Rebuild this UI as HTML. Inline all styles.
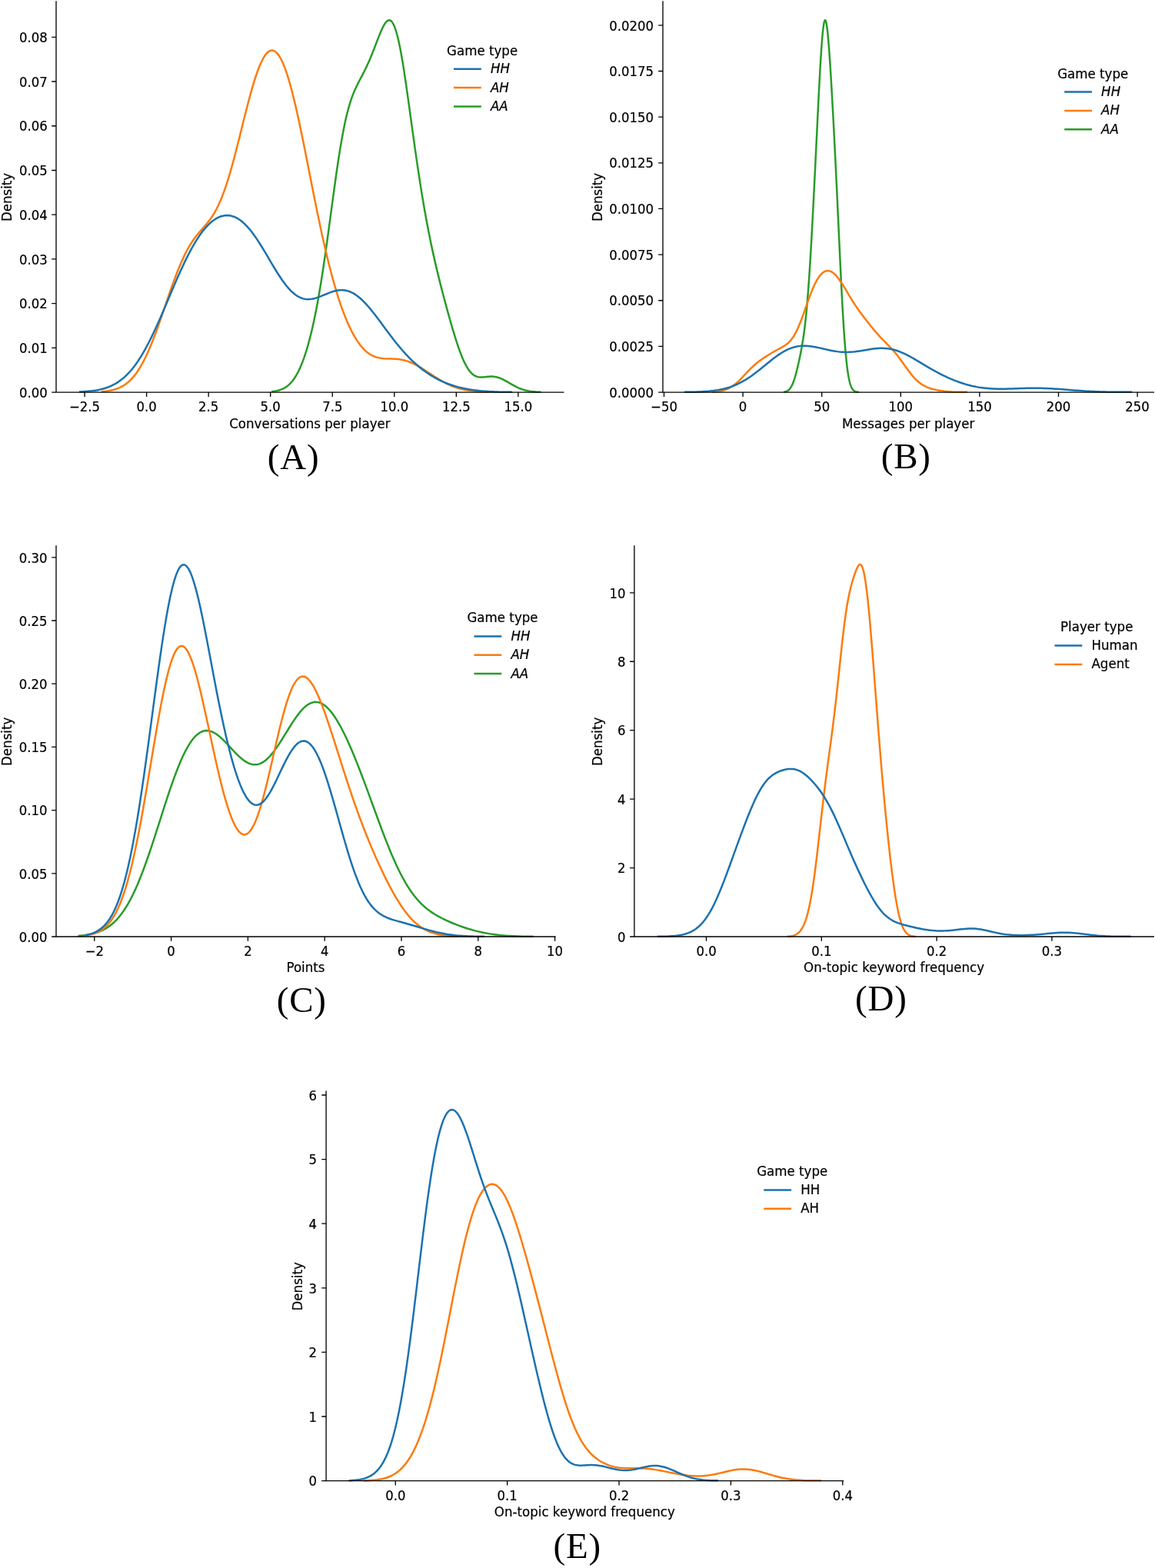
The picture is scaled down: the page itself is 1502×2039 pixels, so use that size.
<!DOCTYPE html>
<html lang="en"><head><meta charset="utf-8"><title>Density plots</title>
<style>
html,body{margin:0;padding:0;background:#fff;}
body{width:1502px;height:2039px;overflow:hidden;}
svg{display:block;}
text{font-family:"DejaVu Sans","Liberation Sans",sans-serif;font-size:16.67px;fill:#000;stroke:#000;stroke-width:0.2px;}
.xl,.al{text-anchor:middle;}
.yl{text-anchor:end;}
.li{font-style:italic;}
.tag{font-family:"Liberation Serif","DejaVu Serif",serif;font-size:47px;letter-spacing:0.8px;text-anchor:middle;stroke:none;}
.c{fill:none;stroke-width:2.5;stroke-linejoin:round;stroke-linecap:butt;}
.lg{fill:none;stroke-width:2.5;stroke-linecap:butt;}
.s{fill:none;stroke:#000;stroke-width:1.33;stroke-linecap:square;stroke-linejoin:miter;}
.t{fill:none;stroke:#000;stroke-width:1.33;}
</style></head><body>
<svg width="1502" height="2039" viewBox="0 0 1502 2039">
<rect width="1502" height="2039" fill="#fff"/>
<g class="panel" id="panel-A">
<path class="c" d="M353 509.24 L354.76 509.04 L356.52 508.8 L358.28 508.5 L360.04 508.15 L361.8 507.72 L363.56 507.21 L365.33 506.61 L367.09 505.9 L368.85 505.06 L370.61 504.08 L372.37 502.95 L374.13 501.63 L375.89 500.13 L377.65 498.41 L379.41 496.46 L381.17 494.25 L382.93 491.78 L384.69 489.03 L386.46 485.97 L388.22 482.6 L389.98 478.89 L391.74 474.83 L393.5 470.42 L395.26 465.62 L397.02 460.44 L398.78 454.86 L400.54 448.86 L402.3 442.43 L404.06 435.55 L405.82 428.2 L407.58 420.38 L409.35 412.06 L411.11 403.24 L412.87 393.91 L414.63 384.07 L416.39 373.71 L418.15 362.86 L419.91 351.53 L421.67 339.75 L423.43 327.58 L425.19 315.07 L426.95 302.28 L428.71 289.31 L430.48 276.24 L432.24 263.17 L434 250.22 L435.76 237.47 L437.52 225.05 L439.28 213.05 L441.04 201.57 L442.8 190.67 L444.56 180.44 L446.32 170.91 L448.08 162.11 L449.84 154.04 L451.61 146.71 L453.37 140.08 L455.13 134.1 L456.89 128.72 L458.65 123.86 L460.41 119.46 L462.17 115.42 L463.93 111.68 L465.69 108.14 L467.45 104.74 L469.21 101.4 L470.97 98.07 L472.73 94.68 L474.5 91.2 L476.26 87.6 L478.02 83.84 L479.78 79.91 L481.54 75.82 L483.3 71.56 L485.06 67.15 L486.82 62.63 L488.58 58.03 L490.34 53.42 L492.1 48.86 L493.86 44.44 L495.63 40.25 L497.39 36.4 L499.15 32.99 L500.91 30.15 L502.67 28 L504.43 26.64 L506.19 26.2 L507.95 26.75 L509.71 28.38 L511.47 31.15 L513.23 35.09 L514.99 40.22 L516.75 46.5 L518.52 53.9 L520.28 62.36 L522.04 71.78 L523.8 82.07 L525.56 93.09 L527.32 104.72 L529.08 116.84 L530.84 129.3 L532.6 141.99 L534.36 154.78 L536.12 167.58 L537.88 180.28 L539.65 192.81 L541.41 205.11 L543.17 217.12 L544.93 228.8 L546.69 240.14 L548.45 251.11 L550.21 261.71 L551.97 271.94 L553.73 281.81 L555.49 291.32 L557.25 300.49 L559.01 309.34 L560.77 317.88 L562.54 326.13 L564.3 334.12 L566.06 341.86 L567.82 349.39 L569.58 356.71 L571.34 363.86 L573.1 370.86 L574.86 377.72 L576.62 384.46 L578.38 391.11 L580.14 397.65 L581.9 404.1 L583.67 410.46 L585.43 416.72 L587.19 422.86 L588.95 428.87 L590.71 434.73 L592.47 440.42 L594.23 445.89 L595.99 451.13 L597.75 456.11 L599.51 460.79 L601.27 465.16 L603.03 469.19 L604.79 472.87 L606.56 476.18 L608.32 479.12 L610.08 481.68 L611.84 483.87 L613.6 485.71 L615.36 487.21 L617.12 488.39 L618.88 489.28 L620.64 489.91 L622.4 490.31 L624.16 490.52 L625.92 490.58 L627.69 490.51 L629.45 490.37 L631.21 490.18 L632.97 489.98 L634.73 489.79 L636.49 489.65 L638.25 489.57 L640.01 489.58 L641.77 489.69 L643.53 489.9 L645.29 490.23 L647.05 490.67 L648.82 491.22 L650.58 491.88 L652.34 492.64 L654.1 493.47 L655.86 494.38 L657.62 495.35 L659.38 496.35 L661.14 497.38 L662.9 498.41 L664.66 499.44 L666.42 500.44 L668.18 501.42 L669.94 502.35 L671.71 503.24 L673.47 504.06 L675.23 504.83 L676.99 505.53 L678.75 506.17 L680.51 506.74 L682.27 507.25 L684.03 507.7 L685.79 508.1 L687.55 508.44 L689.31 508.73 L691.07 508.98 L692.84 509.19 L694.6 509.37 L696.36 509.51 L698.12 509.63 L699.88 509.73 L701.64 509.8 L703.4 509.8" stroke="#289c28"/>
<path class="c" d="M132 509.32 L134.53 509.1 L137.07 508.83 L139.6 508.5 L142.13 508.09 L144.66 507.6 L147.2 507 L149.73 506.28 L152.26 505.43 L154.79 504.41 L157.33 503.22 L159.86 501.84 L162.39 500.23 L164.92 498.38 L167.46 496.26 L169.99 493.86 L172.52 491.16 L175.06 488.13 L177.59 484.76 L180.12 481.03 L182.65 476.95 L185.19 472.5 L187.72 467.68 L190.25 462.5 L192.78 456.97 L195.32 451.1 L197.85 444.91 L200.38 438.43 L202.91 431.69 L205.45 424.72 L207.98 417.57 L210.51 410.28 L213.05 402.91 L215.58 395.49 L218.11 388.08 L220.64 380.74 L223.18 373.51 L225.71 366.45 L228.24 359.6 L230.77 353.02 L233.31 346.72 L235.84 340.76 L238.37 335.15 L240.9 329.91 L243.44 325.04 L245.97 320.54 L248.5 316.4 L251.04 312.59 L253.57 309.08 L256.1 305.81 L258.63 302.74 L261.17 299.8 L263.7 296.92 L266.23 294.03 L268.76 291.04 L271.3 287.88 L273.83 284.47 L276.36 280.73 L278.89 276.61 L281.43 272.03 L283.96 266.95 L286.49 261.33 L289.03 255.15 L291.56 248.39 L294.09 241.06 L296.62 233.18 L299.16 224.78 L301.69 215.9 L304.22 206.6 L306.75 196.95 L309.29 187.02 L311.82 176.92 L314.35 166.72 L316.88 156.53 L319.42 146.43 L321.95 136.55 L324.48 126.96 L327.02 117.78 L329.55 109.09 L332.08 100.99 L334.61 93.55 L337.15 86.85 L339.68 80.97 L342.21 75.96 L344.74 71.88 L347.28 68.78 L349.81 66.68 L352.34 65.61 L354.87 65.6 L357.41 66.64 L359.94 68.74 L362.47 71.89 L365.01 76.07 L367.54 81.26 L370.07 87.41 L372.6 94.48 L375.14 102.43 L377.67 111.19 L380.2 120.71 L382.73 130.91 L385.27 141.73 L387.8 153.08 L390.33 164.88 L392.86 177.07 L395.4 189.54 L397.93 202.22 L400.46 215.04 L402.99 227.91 L405.53 240.76 L408.06 253.51 L410.59 266.11 L413.13 278.49 L415.66 290.6 L418.19 302.4 L420.72 313.84 L423.26 324.9 L425.79 335.54 L428.32 345.76 L430.85 355.53 L433.39 364.84 L435.92 373.7 L438.45 382.1 L440.98 390.05 L443.52 397.54 L446.05 404.59 L448.58 411.2 L451.12 417.38 L453.65 423.13 L456.18 428.47 L458.71 433.41 L461.25 437.94 L463.78 442.08 L466.31 445.83 L468.84 449.22 L471.38 452.23 L473.91 454.9 L476.44 457.22 L478.97 459.22 L481.51 460.92 L484.04 462.33 L486.57 463.48 L489.11 464.39 L491.64 465.09 L494.17 465.61 L496.7 465.98 L499.24 466.23 L501.77 466.38 L504.3 466.48 L506.83 466.55 L509.37 466.61 L511.9 466.71 L514.43 466.85 L516.96 467.05 L519.5 467.35 L522.03 467.75 L524.56 468.26 L527.1 468.89 L529.63 469.64 L532.16 470.52 L534.69 471.53 L537.23 472.65 L539.76 473.89 L542.29 475.22 L544.82 476.65 L547.36 478.16 L549.89 479.73 L552.42 481.35 L554.95 483.01 L557.49 484.69 L560.02 486.37 L562.55 488.05 L565.09 489.71 L567.62 491.33 L570.15 492.91 L572.68 494.43 L575.22 495.89 L577.75 497.27 L580.28 498.58 L582.81 499.81 L585.35 500.96 L587.88 502.02 L590.41 502.99 L592.94 503.88 L595.48 504.69 L598.01 505.42 L600.54 506.07 L603.08 506.64 L605.61 507.15 L608.14 507.6 L610.67 507.99 L613.21 508.33 L615.74 508.63 L618.27 508.88 L620.8 509.09 L623.34 509.27 L625.87 509.42 L628.4 509.55 L630.93 509.65 L633.47 509.74 L636 509.8" stroke="#fc7b0c"/>
<path class="c" d="M103 509.58 L105.83 509.45 L108.66 509.29 L111.49 509.1 L114.32 508.87 L117.15 508.6 L119.97 508.28 L122.8 507.89 L125.63 507.44 L128.46 506.9 L131.29 506.28 L134.12 505.55 L136.95 504.72 L139.78 503.75 L142.61 502.65 L145.44 501.4 L148.27 499.98 L151.1 498.37 L153.92 496.58 L156.75 494.57 L159.58 492.34 L162.41 489.88 L165.24 487.17 L168.07 484.2 L170.9 480.97 L173.73 477.46 L176.56 473.68 L179.39 469.62 L182.22 465.29 L185.05 460.67 L187.87 455.79 L190.7 450.65 L193.53 445.26 L196.36 439.64 L199.19 433.79 L202.02 427.75 L204.85 421.54 L207.68 415.18 L210.51 408.7 L213.34 402.12 L216.17 395.47 L218.99 388.8 L221.82 382.11 L224.65 375.46 L227.48 368.87 L230.31 362.36 L233.14 355.97 L235.97 349.72 L238.8 343.65 L241.63 337.77 L244.46 332.1 L247.29 326.68 L250.12 321.5 L252.94 316.59 L255.77 311.96 L258.6 307.62 L261.43 303.58 L264.26 299.85 L267.09 296.43 L269.92 293.33 L272.75 290.55 L275.58 288.09 L278.41 285.96 L281.24 284.16 L284.07 282.68 L286.89 281.53 L289.72 280.72 L292.55 280.24 L295.38 280.09 L298.21 280.29 L301.04 280.82 L303.87 281.69 L306.7 282.9 L309.53 284.44 L312.36 286.33 L315.19 288.54 L318.02 291.07 L320.84 293.92 L323.67 297.07 L326.5 300.51 L329.33 304.21 L332.16 308.16 L334.99 312.34 L337.82 316.71 L340.65 321.24 L343.48 325.89 L346.31 330.64 L349.14 335.44 L351.96 340.26 L354.79 345.04 L357.62 349.74 L360.45 354.34 L363.28 358.77 L366.11 363.01 L368.94 367.01 L371.77 370.75 L374.6 374.19 L377.43 377.3 L380.26 380.07 L383.09 382.48 L385.91 384.51 L388.74 386.17 L391.57 387.46 L394.4 388.38 L397.23 388.95 L400.06 389.19 L402.89 389.12 L405.72 388.77 L408.55 388.18 L411.38 387.38 L414.21 386.42 L417.04 385.34 L419.86 384.18 L422.69 382.99 L425.52 381.81 L428.35 380.69 L431.18 379.66 L434.01 378.77 L436.84 378.05 L439.67 377.53 L442.5 377.25 L445.33 377.23 L448.16 377.48 L450.98 378.02 L453.81 378.85 L456.64 379.99 L459.47 381.43 L462.3 383.17 L465.13 385.19 L467.96 387.49 L470.79 390.04 L473.62 392.84 L476.45 395.84 L479.28 399.04 L482.11 402.41 L484.93 405.92 L487.76 409.54 L490.59 413.26 L493.42 417.03 L496.25 420.85 L499.08 424.69 L501.91 428.52 L504.74 432.32 L507.57 436.08 L510.4 439.78 L513.23 443.42 L516.06 446.96 L518.88 450.41 L521.71 453.76 L524.54 457 L527.37 460.13 L530.2 463.14 L533.03 466.03 L535.86 468.8 L538.69 471.45 L541.52 473.99 L544.35 476.41 L547.18 478.71 L550.01 480.9 L552.83 482.99 L555.66 484.96 L558.49 486.84 L561.32 488.61 L564.15 490.29 L566.98 491.87 L569.81 493.36 L572.64 494.76 L575.47 496.08 L578.3 497.32 L581.13 498.47 L583.95 499.55 L586.78 500.56 L589.61 501.49 L592.44 502.35 L595.27 503.15 L598.1 503.88 L600.93 504.56 L603.76 505.18 L606.59 505.74 L609.42 506.25 L612.25 506.71 L615.08 507.13 L617.9 507.5 L620.73 507.84 L623.56 508.14 L626.39 508.4 L629.22 508.64 L632.05 508.85 L634.88 509.03 L637.71 509.19 L640.54 509.32 L643.37 509.44 L646.2 509.55 L649.03 509.64 L651.85 509.71 L654.68 509.78 L657.51 509.8 L660.34 509.8 L663.17 509.8 L666 509.8" stroke="#1b72b0"/>
<path class="s" d="M73 2 V510.1 H732.8"/>
<path class="t" d="M110.05 510.1 v5.83M190.6 510.1 v5.83M271.15 510.1 v5.83M351.7 510.1 v5.83M432.25 510.1 v5.83M512.8 510.1 v5.83M593.35 510.1 v5.83M673.9 510.1 v5.83M73 510.1 h-5.83M73 452.38 h-5.83M73 394.65 h-5.83M73 336.93 h-5.83M73 279.2 h-5.83M73 221.48 h-5.83M73 163.75 h-5.83M73 106.02 h-5.83M73 48.3 h-5.83"/>
<text class="xl" transform="translate(110.05 535.1) scale(0.99 1.04)">−2.5</text>
<text class="xl" transform="translate(190.6 535.1) scale(0.99 1.04)">0.0</text>
<text class="xl" transform="translate(271.15 535.1) scale(0.99 1.04)">2.5</text>
<text class="xl" transform="translate(351.7 535.1) scale(0.99 1.04)">5.0</text>
<text class="xl" transform="translate(432.25 535.1) scale(0.99 1.04)">7.5</text>
<text class="xl" transform="translate(512.8 535.1) scale(0.99 1.04)">10.0</text>
<text class="xl" transform="translate(593.35 535.1) scale(0.99 1.04)">12.5</text>
<text class="xl" transform="translate(673.9 535.1) scale(0.99 1.04)">15.0</text>
<text class="yl" transform="translate(61.84 516.8) scale(0.99 1.04)">0.00</text>
<text class="yl" transform="translate(61.84 459.07) scale(0.99 1.04)">0.01</text>
<text class="yl" transform="translate(61.84 401.35) scale(0.99 1.04)">0.02</text>
<text class="yl" transform="translate(61.84 343.63) scale(0.99 1.04)">0.03</text>
<text class="yl" transform="translate(61.84 285.9) scale(0.99 1.04)">0.04</text>
<text class="yl" transform="translate(61.84 228.18) scale(0.99 1.04)">0.05</text>
<text class="yl" transform="translate(61.84 170.45) scale(0.99 1.04)">0.06</text>
<text class="yl" transform="translate(61.84 112.72) scale(0.99 1.04)">0.07</text>
<text class="yl" transform="translate(61.84 55) scale(0.99 1.04)">0.08</text>
<text class="al" transform="translate(402.9 556.5) scale(1.0 1.02)">Conversations per player</text>
<text class="al" transform="translate(15.27 256.45) rotate(-90) scale(1.0 1.02)">Density</text>
<text class="al" transform="translate(627.1 71.8) scale(1.0 1.02)">Game type</text>
<path class="lg" d="M590 89.8 h35.8" stroke="#1b72b0"/>
<text class="li" transform="translate(637.91 95.3) scale(1.0 1.02)">HH</text>
<path class="lg" d="M590 114.1 h35.8" stroke="#fc7b0c"/>
<text class="li" transform="translate(637.91 119.6) scale(1.0 1.02)">AH</text>
<path class="lg" d="M590 138.4 h35.8" stroke="#289c28"/>
<text class="li" transform="translate(637.91 143.9) scale(1.0 1.02)">AA</text>
<text class="tag" x="381.7" y="609.9">(A)</text>
</g>
<g class="panel" id="panel-B">
<path class="c" d="M1019 509.78 L1019.49 509.71 L1019.98 509.63 L1020.48 509.54 L1020.97 509.43 L1021.46 509.3 L1021.95 509.15 L1022.45 508.98 L1022.94 508.78 L1023.43 508.55 L1023.92 508.29 L1024.42 507.99 L1024.91 507.65 L1025.4 507.26 L1025.89 506.83 L1026.39 506.34 L1026.88 505.8 L1027.37 505.2 L1027.86 504.54 L1028.36 503.81 L1028.85 503.01 L1029.34 502.13 L1029.83 501.18 L1030.33 500.15 L1030.82 499.04 L1031.31 497.85 L1031.8 496.57 L1032.3 495.22 L1032.79 493.78 L1033.28 492.26 L1033.77 490.67 L1034.27 489 L1034.76 487.26 L1035.25 485.44 L1035.74 483.57 L1036.24 481.63 L1036.73 479.62 L1037.22 477.57 L1037.71 475.46 L1038.21 473.3 L1038.7 471.09 L1039.19 468.83 L1039.68 466.52 L1040.18 464.15 L1040.67 461.73 L1041.16 459.25 L1041.65 456.71 L1042.15 454.08 L1042.64 451.37 L1043.13 448.56 L1043.62 445.64 L1044.12 442.6 L1044.61 439.41 L1045.1 436.07 L1045.59 432.55 L1046.09 428.83 L1046.58 424.91 L1047.07 420.77 L1047.56 416.38 L1048.06 411.74 L1048.55 406.84 L1049.04 401.65 L1049.53 396.18 L1050.03 390.41 L1050.52 384.35 L1051.01 377.99 L1051.5 371.34 L1051.99 364.39 L1052.49 357.15 L1052.98 349.64 L1053.47 341.86 L1053.96 333.83 L1054.46 325.55 L1054.95 317.04 L1055.44 308.32 L1055.93 299.4 L1056.43 290.3 L1056.92 281.03 L1057.41 271.6 L1057.9 262.04 L1058.4 252.35 L1058.89 242.55 L1059.38 232.65 L1059.87 222.67 L1060.37 212.62 L1060.86 202.51 L1061.35 192.37 L1061.84 182.21 L1062.34 172.06 L1062.83 161.93 L1063.32 151.86 L1063.81 141.87 L1064.31 132.01 L1064.8 122.3 L1065.29 112.79 L1065.78 103.52 L1066.28 94.55 L1066.77 85.91 L1067.26 77.67 L1067.75 69.87 L1068.25 62.57 L1068.74 55.81 L1069.23 49.66 L1069.72 44.14 L1070.22 39.31 L1070.71 35.19 L1071.2 31.83 L1071.69 29.24 L1072.19 27.44 L1072.68 26.44 L1073.17 26.24 L1073.66 26.83 L1074.16 28.2 L1074.65 30.32 L1075.14 33.16 L1075.63 36.69 L1076.13 40.88 L1076.62 45.67 L1077.11 51.02 L1077.6 56.89 L1078.1 63.23 L1078.59 69.98 L1079.08 77.11 L1079.57 84.57 L1080.07 92.33 L1080.56 100.35 L1081.05 108.6 L1081.54 117.05 L1082.04 125.69 L1082.53 134.49 L1083.02 143.45 L1083.51 152.55 L1084.01 161.8 L1084.5 171.19 L1084.99 180.71 L1085.48 190.37 L1085.97 200.17 L1086.47 210.1 L1086.96 220.16 L1087.45 230.34 L1087.94 240.64 L1088.44 251.05 L1088.93 261.55 L1089.42 272.12 L1089.91 282.74 L1090.41 293.38 L1090.9 304.02 L1091.39 314.63 L1091.88 325.17 L1092.38 335.62 L1092.87 345.93 L1093.36 356.07 L1093.85 366.01 L1094.35 375.71 L1094.84 385.14 L1095.33 394.27 L1095.82 403.07 L1096.32 411.53 L1096.81 419.61 L1097.3 427.31 L1097.79 434.61 L1098.29 441.5 L1098.78 447.97 L1099.27 454.03 L1099.76 459.67 L1100.26 464.91 L1100.75 469.74 L1101.24 474.19 L1101.73 478.26 L1102.23 481.97 L1102.72 485.34 L1103.21 488.39 L1103.7 491.13 L1104.2 493.58 L1104.69 495.77 L1105.18 497.72 L1105.67 499.44 L1106.17 500.95 L1106.66 502.28 L1107.15 503.44 L1107.64 504.45 L1108.14 505.33 L1108.63 506.08 L1109.12 506.73 L1109.61 507.28 L1110.11 507.75 L1110.6 508.15 L1111.09 508.49 L1111.58 508.78 L1112.08 509.01 L1112.57 509.21 L1113.06 509.38 L1113.55 509.51 L1114.05 509.63 L1114.54 509.72 L1115.03 509.79 L1115.52 509.8 L1116.02 509.8 L1116.51 509.8 L1117 509.8" stroke="#289c28"/>
<path class="c" d="M926 509.79 L927.67 509.69 L929.34 509.58 L931.01 509.43 L932.67 509.26 L934.34 509.04 L936.01 508.77 L937.68 508.46 L939.35 508.08 L941.02 507.64 L942.68 507.12 L944.35 506.52 L946.02 505.83 L947.69 505.04 L949.36 504.15 L951.03 503.17 L952.69 502.07 L954.36 500.87 L956.03 499.57 L957.7 498.17 L959.37 496.67 L961.04 495.1 L962.7 493.45 L964.37 491.74 L966.04 489.99 L967.71 488.21 L969.38 486.42 L971.05 484.64 L972.71 482.87 L974.38 481.13 L976.05 479.44 L977.72 477.81 L979.39 476.24 L981.06 474.73 L982.72 473.28 L984.39 471.91 L986.06 470.59 L987.73 469.33 L989.4 468.12 L991.07 466.95 L992.73 465.82 L994.4 464.71 L996.07 463.63 L997.74 462.56 L999.41 461.51 L1001.08 460.48 L1002.74 459.47 L1004.41 458.47 L1006.08 457.5 L1007.75 456.56 L1009.42 455.63 L1011.09 454.73 L1012.75 453.84 L1014.42 452.95 L1016.09 452.04 L1017.76 451.11 L1019.43 450.11 L1021.1 449.03 L1022.76 447.82 L1024.43 446.45 L1026.1 444.9 L1027.77 443.11 L1029.44 441.06 L1031.11 438.73 L1032.77 436.1 L1034.44 433.15 L1036.11 429.88 L1037.78 426.3 L1039.45 422.43 L1041.12 418.3 L1042.78 413.94 L1044.45 409.41 L1046.12 404.75 L1047.79 400.03 L1049.46 395.29 L1051.13 390.61 L1052.79 386.03 L1054.46 381.61 L1056.13 377.41 L1057.8 373.46 L1059.47 369.8 L1061.14 366.46 L1062.8 363.45 L1064.47 360.8 L1066.14 358.5 L1067.81 356.56 L1069.48 354.98 L1071.15 353.75 L1072.81 352.87 L1074.48 352.33 L1076.15 352.12 L1077.82 352.23 L1079.49 352.65 L1081.16 353.36 L1082.82 354.37 L1084.49 355.65 L1086.16 357.18 L1087.83 358.96 L1089.5 360.96 L1091.17 363.16 L1092.83 365.53 L1094.5 368.04 L1096.17 370.67 L1097.84 373.39 L1099.51 376.17 L1101.18 378.98 L1102.84 381.79 L1104.51 384.59 L1106.18 387.36 L1107.85 390.07 L1109.52 392.72 L1111.19 395.31 L1112.85 397.82 L1114.52 400.27 L1116.19 402.66 L1117.86 404.99 L1119.53 407.27 L1121.2 409.51 L1122.86 411.72 L1124.53 413.9 L1126.2 416.06 L1127.87 418.2 L1129.54 420.32 L1131.21 422.43 L1132.87 424.51 L1134.54 426.57 L1136.21 428.59 L1137.88 430.58 L1139.55 432.53 L1141.22 434.43 L1142.88 436.29 L1144.55 438.1 L1146.22 439.87 L1147.89 441.6 L1149.56 443.3 L1151.23 444.98 L1152.89 446.65 L1154.56 448.33 L1156.23 450.03 L1157.9 451.76 L1159.57 453.54 L1161.24 455.38 L1162.9 457.29 L1164.57 459.27 L1166.24 461.32 L1167.91 463.45 L1169.58 465.65 L1171.25 467.91 L1172.91 470.22 L1174.58 472.56 L1176.25 474.91 L1177.92 477.26 L1179.59 479.58 L1181.26 481.86 L1182.92 484.08 L1184.59 486.22 L1186.26 488.27 L1187.93 490.2 L1189.6 492.03 L1191.27 493.73 L1192.93 495.3 L1194.6 496.75 L1196.27 498.08 L1197.94 499.28 L1199.61 500.37 L1201.28 501.35 L1202.94 502.24 L1204.61 503.04 L1206.28 503.75 L1207.95 504.39 L1209.62 504.97 L1211.29 505.49 L1212.95 505.97 L1214.62 506.39 L1216.29 506.78 L1217.96 507.14 L1219.63 507.46 L1221.3 507.76 L1222.96 508.03 L1224.63 508.28 L1226.3 508.5 L1227.97 508.71 L1229.64 508.89 L1231.31 509.06 L1232.97 509.21 L1234.64 509.34 L1236.31 509.45 L1237.98 509.56 L1239.65 509.65 L1241.32 509.72 L1242.98 509.79 L1244.65 509.8 L1246.32 509.8 L1247.99 509.8 L1249.66 509.8 L1251.33 509.8 L1252.99 509.8 L1254.66 509.8 L1256.33 509.8 L1258 509.8" stroke="#fc7b0c"/>
<path class="c" d="M890 509.8 L892.92 509.8 L895.85 509.8 L898.77 509.8 L901.7 509.76 L904.62 509.67 L907.55 509.57 L910.47 509.44 L913.4 509.29 L916.32 509.11 L919.25 508.9 L922.17 508.64 L925.1 508.34 L928.02 508 L930.94 507.59 L933.87 507.12 L936.79 506.58 L939.72 505.96 L942.64 505.26 L945.57 504.47 L948.49 503.58 L951.42 502.58 L954.34 501.48 L957.27 500.26 L960.19 498.92 L963.12 497.47 L966.04 495.89 L968.96 494.19 L971.89 492.37 L974.81 490.45 L977.74 488.41 L980.66 486.28 L983.59 484.07 L986.51 481.78 L989.44 479.45 L992.36 477.07 L995.29 474.68 L998.21 472.29 L1001.14 469.92 L1004.06 467.6 L1006.98 465.35 L1009.91 463.19 L1012.83 461.14 L1015.76 459.22 L1018.68 457.45 L1021.61 455.85 L1024.53 454.42 L1027.46 453.18 L1030.38 452.12 L1033.31 451.26 L1036.23 450.6 L1039.16 450.12 L1042.08 449.83 L1045.01 449.71 L1047.93 449.74 L1050.85 449.93 L1053.78 450.24 L1056.7 450.66 L1059.63 451.17 L1062.55 451.75 L1065.48 452.39 L1068.4 453.05 L1071.33 453.73 L1074.25 454.4 L1077.18 455.05 L1080.1 455.66 L1083.03 456.21 L1085.95 456.7 L1088.87 457.12 L1091.8 457.45 L1094.72 457.7 L1097.65 457.84 L1100.57 457.9 L1103.5 457.86 L1106.42 457.72 L1109.35 457.5 L1112.27 457.21 L1115.2 456.84 L1118.12 456.42 L1121.05 455.95 L1123.97 455.46 L1126.89 454.97 L1129.82 454.48 L1132.74 454.02 L1135.67 453.61 L1138.59 453.27 L1141.52 453.01 L1144.44 452.85 L1147.37 452.81 L1150.29 452.9 L1153.22 453.13 L1156.14 453.5 L1159.07 454.03 L1161.99 454.7 L1164.91 455.52 L1167.84 456.49 L1170.76 457.6 L1173.69 458.83 L1176.61 460.17 L1179.54 461.62 L1182.46 463.16 L1185.39 464.76 L1188.31 466.43 L1191.24 468.14 L1194.16 469.88 L1197.09 471.63 L1200.01 473.39 L1202.93 475.14 L1205.86 476.87 L1208.78 478.59 L1211.71 480.27 L1214.63 481.91 L1217.56 483.51 L1220.48 485.07 L1223.41 486.58 L1226.33 488.04 L1229.26 489.45 L1232.18 490.81 L1235.11 492.12 L1238.03 493.37 L1240.95 494.56 L1243.88 495.69 L1246.8 496.77 L1249.73 497.79 L1252.65 498.74 L1255.58 499.63 L1258.5 500.46 L1261.43 501.23 L1264.35 501.93 L1267.28 502.56 L1270.2 503.14 L1273.13 503.65 L1276.05 504.09 L1278.97 504.48 L1281.9 504.81 L1284.82 505.08 L1287.75 505.3 L1290.67 505.47 L1293.6 505.6 L1296.52 505.68 L1299.45 505.72 L1302.37 505.73 L1305.3 505.71 L1308.22 505.67 L1311.15 505.6 L1314.07 505.52 L1316.99 505.42 L1319.92 505.32 L1322.84 505.22 L1325.77 505.12 L1328.69 505.02 L1331.62 504.93 L1334.54 504.85 L1337.47 504.79 L1340.39 504.74 L1343.32 504.71 L1346.24 504.71 L1349.17 504.72 L1352.09 504.76 L1355.02 504.82 L1357.94 504.9 L1360.86 505.01 L1363.79 505.14 L1366.71 505.29 L1369.64 505.45 L1372.56 505.64 L1375.49 505.83 L1378.41 506.04 L1381.34 506.26 L1384.26 506.49 L1387.19 506.72 L1390.11 506.95 L1393.04 507.18 L1395.96 507.41 L1398.88 507.64 L1401.81 507.86 L1404.73 508.07 L1407.66 508.27 L1410.58 508.46 L1413.51 508.63 L1416.43 508.8 L1419.36 508.95 L1422.28 509.1 L1425.21 509.22 L1428.13 509.34 L1431.06 509.45 L1433.98 509.54 L1436.9 509.62 L1439.83 509.69 L1442.75 509.76 L1445.68 509.8 L1448.6 509.8 L1451.53 509.8 L1454.45 509.8 L1457.38 509.8 L1460.3 509.8 L1463.23 509.8 L1466.15 509.8 L1469.08 509.8 L1472 509.8" stroke="#1b72b0"/>
<path class="s" d="M862 2 V510.1 H1500.3"/>
<path class="t" d="M863.5 510.1 v5.83M966.1 510.1 v5.83M1068.7 510.1 v5.83M1171.3 510.1 v5.83M1273.9 510.1 v5.83M1376.5 510.1 v5.83M1479.1 510.1 v5.83M862 510.1 h-5.83M862 450.44 h-5.83M862 390.78 h-5.83M862 331.11 h-5.83M862 271.45 h-5.83M862 211.79 h-5.83M862 152.13 h-5.83M862 92.46 h-5.83M862 32.8 h-5.83"/>
<text class="xl" transform="translate(863.5 535.1) scale(0.99 1.04)">−50</text>
<text class="xl" transform="translate(966.1 535.1) scale(0.99 1.04)">0</text>
<text class="xl" transform="translate(1068.7 535.1) scale(0.99 1.04)">50</text>
<text class="xl" transform="translate(1171.3 535.1) scale(0.99 1.04)">100</text>
<text class="xl" transform="translate(1273.9 535.1) scale(0.99 1.04)">150</text>
<text class="xl" transform="translate(1376.5 535.1) scale(0.99 1.04)">200</text>
<text class="xl" transform="translate(1479.1 535.1) scale(0.99 1.04)">250</text>
<text class="yl" transform="translate(850.04 516.8) scale(0.99 1.04)">0.0000</text>
<text class="yl" transform="translate(850.04 457.14) scale(0.99 1.04)">0.0025</text>
<text class="yl" transform="translate(850.04 397.48) scale(0.99 1.04)">0.0050</text>
<text class="yl" transform="translate(850.04 337.81) scale(0.99 1.04)">0.0075</text>
<text class="yl" transform="translate(850.04 278.15) scale(0.99 1.04)">0.0100</text>
<text class="yl" transform="translate(850.04 218.49) scale(0.99 1.04)">0.0125</text>
<text class="yl" transform="translate(850.04 158.83) scale(0.99 1.04)">0.0150</text>
<text class="yl" transform="translate(850.04 99.16) scale(0.99 1.04)">0.0175</text>
<text class="yl" transform="translate(850.04 39.5) scale(0.99 1.04)">0.0200</text>
<text class="al" transform="translate(1181.15 556.5) scale(1.0 1.02)">Messages per player</text>
<text class="al" transform="translate(783.07 256.45) rotate(-90) scale(1.0 1.02)">Density</text>
<text class="al" transform="translate(1421.2 101.7) scale(1.0 1.02)">Game type</text>
<path class="lg" d="M1384.2 119.6 h35.8" stroke="#1b72b0"/>
<text class="li" transform="translate(1432.11 125.1) scale(1.0 1.02)">HH</text>
<path class="lg" d="M1384.2 143.9 h35.8" stroke="#fc7b0c"/>
<text class="li" transform="translate(1432.11 149.4) scale(1.0 1.02)">AH</text>
<path class="lg" d="M1384.2 168.2 h35.8" stroke="#289c28"/>
<text class="li" transform="translate(1432.11 173.7) scale(1.0 1.02)">AA</text>
<text class="tag" x="1178.3" y="608.9">(B)</text>
</g>
<g class="panel" id="panel-C">
<path class="c" d="M101.5 1217.02 L104.47 1216.77 L107.45 1216.47 L110.42 1216.11 L113.4 1215.67 L116.37 1215.14 L119.35 1214.52 L122.32 1213.77 L125.3 1212.89 L128.27 1211.86 L131.25 1210.66 L134.22 1209.26 L137.2 1207.65 L140.17 1205.79 L143.15 1203.68 L146.12 1201.27 L149.1 1198.56 L152.07 1195.51 L155.05 1192.1 L158.02 1188.31 L161 1184.13 L163.97 1179.54 L166.95 1174.53 L169.92 1169.08 L172.9 1163.2 L175.87 1156.89 L178.85 1150.15 L181.82 1143 L184.8 1135.45 L187.77 1127.54 L190.75 1119.28 L193.72 1110.73 L196.7 1101.91 L199.67 1092.88 L202.65 1083.68 L205.62 1074.38 L208.6 1065.04 L211.57 1055.7 L214.55 1046.44 L217.52 1037.32 L220.49 1028.4 L223.47 1019.74 L226.44 1011.4 L229.42 1003.44 L232.39 995.9 L235.37 988.83 L238.34 982.28 L241.32 976.28 L244.29 970.87 L247.27 966.06 L250.24 961.87 L253.22 958.32 L256.19 955.42 L259.17 953.15 L262.14 951.52 L265.12 950.5 L268.09 950.07 L271.07 950.22 L274.04 950.9 L277.02 952.08 L279.99 953.72 L282.97 955.76 L285.94 958.15 L288.92 960.83 L291.89 963.75 L294.87 966.84 L297.84 970.04 L300.82 973.28 L303.79 976.49 L306.77 979.61 L309.74 982.57 L312.72 985.32 L315.69 987.79 L318.67 989.93 L321.64 991.69 L324.62 993.03 L327.59 993.92 L330.57 994.32 L333.54 994.22 L336.52 993.6 L339.49 992.46 L342.46 990.8 L345.44 988.64 L348.41 986 L351.39 982.9 L354.36 979.4 L357.34 975.52 L360.31 971.33 L363.29 966.88 L366.26 962.23 L369.24 957.45 L372.21 952.6 L375.19 947.76 L378.16 943 L381.14 938.38 L384.11 933.98 L387.09 929.86 L390.06 926.07 L393.04 922.68 L396.01 919.73 L398.99 917.27 L401.96 915.33 L404.94 913.93 L407.91 913.11 L410.89 912.87 L413.86 913.21 L416.84 914.15 L419.81 915.66 L422.79 917.73 L425.76 920.35 L428.74 923.5 L431.71 927.15 L434.69 931.28 L437.66 935.85 L440.64 940.84 L443.61 946.23 L446.59 951.97 L449.56 958.06 L452.54 964.45 L455.51 971.13 L458.48 978.07 L461.46 985.25 L464.43 992.64 L467.41 1000.22 L470.38 1007.96 L473.36 1015.85 L476.33 1023.85 L479.31 1031.93 L482.28 1040.07 L485.26 1048.24 L488.23 1056.4 L491.21 1064.51 L494.18 1072.55 L497.16 1080.49 L500.13 1088.27 L503.11 1095.88 L506.08 1103.28 L509.06 1110.44 L512.03 1117.34 L515.01 1123.95 L517.98 1130.24 L520.96 1136.22 L523.93 1141.86 L526.91 1147.16 L529.88 1152.12 L532.86 1156.73 L535.83 1161.02 L538.81 1164.98 L541.78 1168.63 L544.76 1171.99 L547.73 1175.08 L550.71 1177.91 L553.68 1180.51 L556.66 1182.9 L559.63 1185.11 L562.61 1187.14 L565.58 1189.03 L568.56 1190.79 L571.53 1192.44 L574.51 1194 L577.48 1195.47 L580.45 1196.87 L583.43 1198.21 L586.4 1199.49 L589.38 1200.72 L592.35 1201.91 L595.33 1203.05 L598.3 1204.16 L601.28 1205.22 L604.25 1206.24 L607.23 1207.21 L610.2 1208.14 L613.18 1209.03 L616.15 1209.87 L619.13 1210.66 L622.1 1211.4 L625.08 1212.09 L628.05 1212.74 L631.03 1213.33 L634 1213.88 L636.98 1214.38 L639.95 1214.83 L642.93 1215.24 L645.9 1215.61 L648.88 1215.94 L651.85 1216.23 L654.83 1216.49 L657.8 1216.72 L660.78 1216.91 L663.75 1217.09 L666.73 1217.23 L669.7 1217.36 L672.68 1217.47 L675.65 1217.56 L678.63 1217.64 L681.6 1217.7 L684.58 1217.7 L687.55 1217.7 L690.53 1217.7 L693.5 1217.7" stroke="#289c28"/>
<path class="c" d="M115 1215.89 L117.42 1215.38 L119.83 1214.77 L122.25 1214.03 L124.67 1213.15 L127.09 1212.1 L129.5 1210.86 L131.92 1209.4 L134.34 1207.69 L136.75 1205.7 L139.17 1203.39 L141.59 1200.72 L144.01 1197.67 L146.42 1194.19 L148.84 1190.25 L151.26 1185.8 L153.67 1180.81 L156.09 1175.24 L158.51 1169.07 L160.92 1162.25 L163.34 1154.77 L165.76 1146.62 L168.18 1137.77 L170.59 1128.23 L173.01 1118 L175.43 1107.1 L177.84 1095.54 L180.26 1083.38 L182.68 1070.65 L185.1 1057.41 L187.51 1043.73 L189.93 1029.7 L192.35 1015.4 L194.76 1000.94 L197.18 986.42 L199.6 971.96 L202.02 957.67 L204.43 943.69 L206.85 930.14 L209.27 917.14 L211.68 904.82 L214.1 893.29 L216.52 882.66 L218.93 873.05 L221.35 864.53 L223.77 857.19 L226.19 851.1 L228.6 846.3 L231.02 842.83 L233.44 840.7 L235.85 839.92 L238.27 840.48 L240.69 842.34 L243.11 845.46 L245.52 849.77 L247.94 855.22 L250.36 861.7 L252.77 869.14 L255.19 877.43 L257.61 886.47 L260.03 896.15 L262.44 906.35 L264.86 916.98 L267.28 927.92 L269.69 939.07 L272.11 950.32 L274.53 961.57 L276.94 972.74 L279.36 983.75 L281.78 994.5 L284.2 1004.92 L286.61 1014.95 L289.03 1024.53 L291.45 1033.58 L293.86 1042.06 L296.28 1049.92 L298.7 1057.11 L301.12 1063.57 L303.53 1069.27 L305.95 1074.17 L308.37 1078.22 L310.78 1081.4 L313.2 1083.68 L315.62 1085.02 L318.04 1085.4 L320.45 1084.81 L322.87 1083.24 L325.29 1080.69 L327.7 1077.17 L330.12 1072.7 L332.54 1067.31 L334.95 1061.03 L337.37 1053.92 L339.79 1046.05 L342.21 1037.49 L344.62 1028.32 L347.04 1018.65 L349.46 1008.57 L351.87 998.2 L354.29 987.66 L356.71 977.06 L359.13 966.52 L361.54 956.18 L363.96 946.13 L366.38 936.5 L368.79 927.39 L371.21 918.89 L373.63 911.09 L376.05 904.05 L378.46 897.85 L380.88 892.51 L383.3 888.09 L385.71 884.59 L388.13 882.01 L390.55 880.37 L392.96 879.62 L395.38 879.75 L397.8 880.73 L400.22 882.5 L402.63 885.03 L405.05 888.25 L407.47 892.12 L409.88 896.57 L412.3 901.55 L414.72 907.01 L417.14 912.89 L419.55 919.13 L421.97 925.69 L424.39 932.52 L426.8 939.57 L429.22 946.81 L431.64 954.19 L434.06 961.68 L436.47 969.24 L438.89 976.85 L441.31 984.47 L443.72 992.07 L446.14 999.64 L448.56 1007.16 L450.97 1014.59 L453.39 1021.94 L455.81 1029.18 L458.23 1036.3 L460.64 1043.29 L463.06 1050.15 L465.48 1056.88 L467.89 1063.47 L470.31 1069.92 L472.73 1076.23 L475.15 1082.41 L477.56 1088.46 L479.98 1094.38 L482.4 1100.18 L484.81 1105.87 L487.23 1111.45 L489.65 1116.91 L492.07 1122.27 L494.48 1127.51 L496.9 1132.65 L499.32 1137.68 L501.73 1142.59 L504.15 1147.38 L506.57 1152.05 L508.98 1156.58 L511.4 1160.97 L513.82 1165.21 L516.24 1169.29 L518.65 1173.2 L521.07 1176.95 L523.49 1180.51 L525.9 1183.89 L528.32 1187.09 L530.74 1190.09 L533.16 1192.89 L535.57 1195.51 L537.99 1197.93 L540.41 1200.17 L542.82 1202.22 L545.24 1204.1 L547.66 1205.8 L550.08 1207.34 L552.49 1208.73 L554.91 1209.97 L557.33 1211.08 L559.74 1212.06 L562.16 1212.92 L564.58 1213.68 L566.99 1214.34 L569.41 1214.92 L571.83 1215.41 L574.25 1215.84 L576.66 1216.2 L579.08 1216.51 L581.5 1216.77 L583.91 1216.99 L586.33 1217.18 L588.75 1217.33 L591.17 1217.46 L593.58 1217.57 L596 1217.65" stroke="#fc7b0c"/>
<path class="c" d="M112 1215.89 L114.6 1215.33 L117.21 1214.65 L119.81 1213.82 L122.41 1212.82 L125.02 1211.6 L127.62 1210.14 L130.22 1208.4 L132.82 1206.34 L135.43 1203.92 L138.03 1201.07 L140.63 1197.76 L143.24 1193.93 L145.84 1189.52 L148.44 1184.48 L151.05 1178.75 L153.65 1172.28 L156.25 1165.01 L158.85 1156.89 L161.46 1147.88 L164.06 1137.96 L166.66 1127.07 L169.27 1115.22 L171.87 1102.39 L174.47 1088.59 L177.08 1073.85 L179.68 1058.2 L182.28 1041.7 L184.88 1024.42 L187.49 1006.45 L190.09 987.9 L192.69 968.88 L195.3 949.55 L197.9 930.05 L200.5 910.55 L203.11 891.22 L205.71 872.26 L208.31 853.84 L210.91 836.16 L213.52 819.39 L216.12 803.73 L218.72 789.34 L221.33 776.37 L223.93 764.97 L226.53 755.25 L229.14 747.3 L231.74 741.21 L234.34 737 L236.94 734.69 L239.55 734.28 L242.15 735.72 L244.75 738.95 L247.36 743.87 L249.96 750.37 L252.56 758.32 L255.17 767.58 L257.77 777.99 L260.37 789.38 L262.97 801.58 L265.58 814.42 L268.18 827.75 L270.78 841.39 L273.39 855.21 L275.99 869.06 L278.59 882.83 L281.2 896.4 L283.8 909.68 L286.4 922.59 L289.01 935.06 L291.61 947.04 L294.21 958.46 L296.81 969.31 L299.42 979.54 L302.02 989.13 L304.62 998.06 L307.23 1006.3 L309.83 1013.83 L312.43 1020.63 L315.04 1026.68 L317.64 1031.97 L320.24 1036.47 L322.84 1040.18 L325.45 1043.08 L328.05 1045.16 L330.65 1046.42 L333.26 1046.87 L335.86 1046.53 L338.46 1045.41 L341.07 1043.56 L343.67 1041.01 L346.27 1037.82 L348.87 1034.06 L351.48 1029.79 L354.08 1025.09 L356.68 1020.05 L359.29 1014.77 L361.89 1009.32 L364.49 1003.82 L367.1 998.35 L369.7 993.01 L372.3 987.88 L374.9 983.06 L377.51 978.61 L380.11 974.63 L382.71 971.17 L385.32 968.29 L387.92 966.04 L390.52 964.48 L393.13 963.63 L395.73 963.52 L398.33 964.17 L400.93 965.6 L403.54 967.81 L406.14 970.79 L408.74 974.54 L411.35 979.03 L413.95 984.24 L416.55 990.12 L419.16 996.65 L421.76 1003.76 L424.36 1011.4 L426.96 1019.51 L429.57 1028.01 L432.17 1036.84 L434.77 1045.92 L437.38 1055.17 L439.98 1064.51 L442.58 1073.85 L445.19 1083.13 L447.79 1092.26 L450.39 1101.18 L452.99 1109.82 L455.6 1118.13 L458.2 1126.05 L460.8 1133.54 L463.41 1140.58 L466.01 1147.14 L468.61 1153.2 L471.22 1158.75 L473.82 1163.81 L476.42 1168.38 L479.03 1172.48 L481.63 1176.13 L484.23 1179.35 L486.83 1182.19 L489.44 1184.66 L492.04 1186.82 L494.64 1188.68 L497.25 1190.3 L499.85 1191.71 L502.45 1192.93 L505.06 1194.01 L507.66 1194.97 L510.26 1195.84 L512.86 1196.64 L515.47 1197.39 L518.07 1198.12 L520.67 1198.83 L523.28 1199.53 L525.88 1200.24 L528.48 1200.95 L531.09 1201.69 L533.69 1202.43 L536.29 1203.19 L538.89 1203.96 L541.5 1204.75 L544.1 1205.54 L546.7 1206.33 L549.31 1207.11 L551.91 1207.89 L554.51 1208.66 L557.12 1209.4 L559.72 1210.13 L562.32 1210.83 L564.92 1211.49 L567.53 1212.13 L570.13 1212.73 L572.73 1213.29 L575.34 1213.81 L577.94 1214.29 L580.54 1214.74 L583.15 1215.14 L585.75 1215.51 L588.35 1215.84 L590.95 1216.14 L593.56 1216.41 L596.16 1216.64 L598.76 1216.85 L601.37 1217.03 L603.97 1217.18 L606.57 1217.32 L609.18 1217.43 L611.78 1217.53 L614.38 1217.62 L616.98 1217.69 L619.59 1217.7 L622.19 1217.7 L624.79 1217.7 L627.4 1217.7 L630 1217.7" stroke="#1b72b0"/>
<path class="s" d="M73 709.8 V1218 H722"/>
<path class="t" d="M122.8 1218 v5.83M222.6 1218 v5.83M322.4 1218 v5.83M422.2 1218 v5.83M522 1218 v5.83M621.8 1218 v5.83M721.6 1218 v5.83M73 1218 h-5.83M73 1135.8 h-5.83M73 1053.6 h-5.83M73 971.4 h-5.83M73 889.2 h-5.83M73 807 h-5.83M73 724.8 h-5.83"/>
<text class="xl" transform="translate(122.8 1243) scale(0.99 1.04)">−2</text>
<text class="xl" transform="translate(222.6 1243) scale(0.99 1.04)">0</text>
<text class="xl" transform="translate(322.4 1243) scale(0.99 1.04)">2</text>
<text class="xl" transform="translate(422.2 1243) scale(0.99 1.04)">4</text>
<text class="xl" transform="translate(522 1243) scale(0.99 1.04)">6</text>
<text class="xl" transform="translate(621.8 1243) scale(0.99 1.04)">8</text>
<text class="xl" transform="translate(721.6 1243) scale(0.99 1.04)">10</text>
<text class="yl" transform="translate(61.54 1224.7) scale(0.99 1.04)">0.00</text>
<text class="yl" transform="translate(61.54 1142.5) scale(0.99 1.04)">0.05</text>
<text class="yl" transform="translate(61.54 1060.3) scale(0.99 1.04)">0.10</text>
<text class="yl" transform="translate(61.54 978.1) scale(0.99 1.04)">0.15</text>
<text class="yl" transform="translate(61.54 895.9) scale(0.99 1.04)">0.20</text>
<text class="yl" transform="translate(61.54 813.7) scale(0.99 1.04)">0.25</text>
<text class="yl" transform="translate(61.54 731.5) scale(0.99 1.04)">0.30</text>
<text class="al" transform="translate(397.5 1264.4) scale(1.0 1.02)">Points</text>
<text class="al" transform="translate(15.27 964.3) rotate(-90) scale(1.0 1.02)">Density</text>
<text class="al" transform="translate(653.5 809.2) scale(1.0 1.02)">Game type</text>
<path class="lg" d="M616.5 827.4 h35.8" stroke="#1b72b0"/>
<text class="li" transform="translate(664.41 832.9) scale(1.0 1.02)">HH</text>
<path class="lg" d="M616.5 851.7 h35.8" stroke="#fc7b0c"/>
<text class="li" transform="translate(664.41 857.2) scale(1.0 1.02)">AH</text>
<path class="lg" d="M616.5 876 h35.8" stroke="#289c28"/>
<text class="li" transform="translate(664.41 881.5) scale(1.0 1.02)">AA</text>
<text class="tag" x="392.3" y="1316">(C)</text>
</g>
<g class="panel" id="panel-D">
<path class="c" d="M1024 1217.7 L1024.84 1217.7 L1025.67 1217.69 L1026.51 1217.62 L1027.35 1217.53 L1028.18 1217.42 L1029.02 1217.29 L1029.86 1217.13 L1030.69 1216.95 L1031.53 1216.73 L1032.37 1216.47 L1033.2 1216.17 L1034.04 1215.83 L1034.88 1215.42 L1035.71 1214.96 L1036.55 1214.43 L1037.39 1213.82 L1038.22 1213.13 L1039.06 1212.35 L1039.9 1211.47 L1040.73 1210.48 L1041.57 1209.38 L1042.41 1208.14 L1043.24 1206.76 L1044.08 1205.23 L1044.92 1203.53 L1045.75 1201.66 L1046.59 1199.59 L1047.43 1197.33 L1048.26 1194.84 L1049.1 1192.13 L1049.94 1189.17 L1050.77 1185.96 L1051.61 1182.48 L1052.45 1178.72 L1053.28 1174.68 L1054.12 1170.34 L1054.96 1165.7 L1055.79 1160.77 L1056.63 1155.53 L1057.47 1150 L1058.3 1144.18 L1059.14 1138.09 L1059.98 1131.74 L1060.81 1125.16 L1061.65 1118.36 L1062.49 1111.38 L1063.32 1104.25 L1064.16 1096.99 L1065 1089.65 L1065.83 1082.25 L1066.67 1074.83 L1067.51 1067.42 L1068.34 1060.06 L1069.18 1052.76 L1070.02 1045.55 L1070.85 1038.45 L1071.69 1031.48 L1072.53 1024.64 L1073.36 1017.92 L1074.2 1011.34 L1075.04 1004.87 L1075.87 998.51 L1076.71 992.23 L1077.55 986.01 L1078.38 979.82 L1079.22 973.63 L1080.06 967.42 L1080.89 961.16 L1081.73 954.81 L1082.57 948.35 L1083.4 941.76 L1084.24 935.02 L1085.08 928.11 L1085.91 921.03 L1086.75 913.77 L1087.59 906.35 L1088.42 898.77 L1089.26 891.06 L1090.1 883.24 L1090.93 875.35 L1091.77 867.42 L1092.61 859.5 L1093.44 851.64 L1094.28 843.88 L1095.12 836.28 L1095.95 828.88 L1096.79 821.72 L1097.63 814.86 L1098.46 808.31 L1099.3 802.11 L1100.14 796.28 L1100.97 790.81 L1101.81 785.72 L1102.65 781 L1103.48 776.62 L1104.32 772.56 L1105.16 768.79 L1105.99 765.28 L1106.83 762 L1107.67 758.91 L1108.51 755.98 L1109.34 753.19 L1110.18 750.53 L1111.02 747.98 L1111.85 745.55 L1112.69 743.25 L1113.53 741.11 L1114.36 739.17 L1115.2 737.46 L1116.04 736.03 L1116.87 734.95 L1117.71 734.26 L1118.55 734.04 L1119.38 734.34 L1120.22 735.21 L1121.06 736.7 L1121.89 738.85 L1122.73 741.68 L1123.57 745.23 L1124.4 749.49 L1125.24 754.47 L1126.08 760.14 L1126.91 766.5 L1127.75 773.5 L1128.59 781.11 L1129.42 789.28 L1130.26 797.97 L1131.1 807.11 L1131.93 816.67 L1132.77 826.58 L1133.61 836.79 L1134.44 847.24 L1135.28 857.89 L1136.12 868.69 L1136.95 879.6 L1137.79 890.56 L1138.63 901.55 L1139.46 912.53 L1140.3 923.47 L1141.14 934.33 L1141.97 945.1 L1142.81 955.75 L1143.65 966.26 L1144.48 976.61 L1145.32 986.8 L1146.16 996.81 L1146.99 1006.63 L1147.83 1016.27 L1148.67 1025.71 L1149.5 1034.95 L1150.34 1044 L1151.18 1052.86 L1152.01 1061.53 L1152.85 1070 L1153.69 1078.28 L1154.52 1086.38 L1155.36 1094.28 L1156.2 1101.98 L1157.03 1109.49 L1157.87 1116.79 L1158.71 1123.87 L1159.54 1130.73 L1160.38 1137.36 L1161.22 1143.74 L1162.05 1149.86 L1162.89 1155.71 L1163.73 1161.29 L1164.56 1166.58 L1165.4 1171.57 L1166.24 1176.25 L1167.07 1180.64 L1167.91 1184.71 L1168.75 1188.48 L1169.58 1191.95 L1170.42 1195.13 L1171.26 1198.01 L1172.09 1200.62 L1172.93 1202.97 L1173.77 1205.07 L1174.6 1206.93 L1175.44 1208.57 L1176.28 1210.02 L1177.11 1211.28 L1177.95 1212.37 L1178.79 1213.31 L1179.62 1214.11 L1180.46 1214.79 L1181.3 1215.37 L1182.13 1215.86 L1182.97 1216.26 L1183.81 1216.6 L1184.64 1216.88 L1185.48 1217.11 L1186.32 1217.29 L1187.15 1217.44 L1187.99 1217.56 L1188.83 1217.66 L1189.66 1217.7 L1190.5 1217.7" stroke="#fc7b0c"/>
<path class="c" d="M855 1217.7 L858.09 1217.7 L861.19 1217.7 L864.28 1217.7 L867.37 1217.66 L870.46 1217.53 L873.56 1217.34 L876.65 1217.1 L879.74 1216.78 L882.84 1216.36 L885.93 1215.82 L889.02 1215.14 L892.12 1214.27 L895.21 1213.19 L898.3 1211.86 L901.39 1210.22 L904.49 1208.24 L907.58 1205.85 L910.67 1203.02 L913.77 1199.7 L916.86 1195.84 L919.95 1191.42 L923.05 1186.42 L926.14 1180.84 L929.23 1174.7 L932.32 1168.02 L935.42 1160.85 L938.51 1153.27 L941.6 1145.35 L944.7 1137.15 L947.79 1128.77 L950.88 1120.26 L953.97 1111.7 L957.07 1103.13 L960.16 1094.61 L963.25 1086.18 L966.35 1077.87 L969.44 1069.73 L972.53 1061.82 L975.63 1054.19 L978.72 1046.93 L981.81 1040.1 L984.9 1033.79 L988 1028.06 L991.09 1022.95 L994.18 1018.5 L997.28 1014.69 L1000.37 1011.48 L1003.46 1008.83 L1006.56 1006.65 L1009.65 1004.86 L1012.74 1003.4 L1015.83 1002.2 L1018.93 1001.25 L1022.02 1000.53 L1025.11 1000.06 L1028.21 999.89 L1031.3 1000.06 L1034.39 1000.6 L1037.48 1001.56 L1040.58 1002.95 L1043.67 1004.76 L1046.76 1006.96 L1049.86 1009.52 L1052.95 1012.4 L1056.04 1015.57 L1059.14 1019.01 L1062.23 1022.73 L1065.32 1026.73 L1068.41 1031.04 L1071.51 1035.72 L1074.6 1040.78 L1077.69 1046.25 L1080.79 1052.13 L1083.88 1058.4 L1086.97 1065.03 L1090.07 1071.94 L1093.16 1079.05 L1096.25 1086.3 L1099.34 1093.59 L1102.44 1100.87 L1105.53 1108.07 L1108.62 1115.17 L1111.72 1122.13 L1114.81 1128.95 L1117.9 1135.62 L1120.99 1142.11 L1124.09 1148.43 L1127.18 1154.53 L1130.27 1160.38 L1133.37 1165.93 L1136.46 1171.15 L1139.55 1175.98 L1142.65 1180.37 L1145.74 1184.31 L1148.83 1187.78 L1151.92 1190.79 L1155.02 1193.35 L1158.11 1195.51 L1161.2 1197.31 L1164.3 1198.81 L1167.39 1200.07 L1170.48 1201.15 L1173.58 1202.1 L1176.67 1202.96 L1179.76 1203.76 L1182.85 1204.53 L1185.95 1205.27 L1189.04 1205.99 L1192.13 1206.68 L1195.23 1207.34 L1198.32 1207.95 L1201.41 1208.52 L1204.51 1209.02 L1207.6 1209.45 L1210.69 1209.82 L1213.78 1210.1 L1216.88 1210.31 L1219.97 1210.45 L1223.06 1210.5 L1226.16 1210.47 L1229.25 1210.37 L1232.34 1210.2 L1235.43 1209.96 L1238.53 1209.66 L1241.62 1209.32 L1244.71 1208.95 L1247.81 1208.59 L1250.9 1208.24 L1253.99 1207.93 L1257.09 1207.7 L1260.18 1207.55 L1263.27 1207.51 L1266.36 1207.6 L1269.46 1207.81 L1272.55 1208.15 L1275.64 1208.6 L1278.74 1209.16 L1281.83 1209.79 L1284.92 1210.48 L1288.02 1211.2 L1291.11 1211.93 L1294.2 1212.63 L1297.29 1213.3 L1300.39 1213.91 L1303.48 1214.45 L1306.57 1214.91 L1309.67 1215.3 L1312.76 1215.6 L1315.85 1215.84 L1318.94 1216 L1322.04 1216.11 L1325.13 1216.16 L1328.22 1216.17 L1331.32 1216.13 L1334.41 1216.06 L1337.5 1215.95 L1340.6 1215.81 L1343.69 1215.64 L1346.78 1215.44 L1349.87 1215.21 L1352.97 1214.95 L1356.06 1214.68 L1359.15 1214.38 L1362.25 1214.09 L1365.34 1213.79 L1368.43 1213.51 L1371.53 1213.25 L1374.62 1213.03 L1377.71 1212.86 L1380.8 1212.74 L1383.9 1212.7 L1386.99 1212.72 L1390.08 1212.82 L1393.18 1212.98 L1396.27 1213.2 L1399.36 1213.48 L1402.45 1213.81 L1405.55 1214.16 L1408.64 1214.54 L1411.73 1214.92 L1414.83 1215.3 L1417.92 1215.67 L1421.01 1216.02 L1424.11 1216.34 L1427.2 1216.62 L1430.29 1216.88 L1433.38 1217.1 L1436.48 1217.29 L1439.57 1217.44 L1442.66 1217.57 L1445.76 1217.68 L1448.85 1217.7 L1451.94 1217.7 L1455.04 1217.7 L1458.13 1217.7 L1461.22 1217.7 L1464.31 1217.7 L1467.41 1217.7 L1470.5 1217.7" stroke="#1b72b0"/>
<path class="s" d="M824.9 709.8 V1218 H1500.3"/>
<path class="t" d="M918.5 1218 v5.83M1068.3 1218 v5.83M1218.1 1218 v5.83M1367.9 1218 v5.83M824.9 1218 h-5.83M824.9 1128.56 h-5.83M824.9 1039.12 h-5.83M824.9 949.68 h-5.83M824.9 860.24 h-5.83M824.9 770.8 h-5.83"/>
<text class="xl" transform="translate(918.5 1243) scale(0.99 1.04)">0.0</text>
<text class="xl" transform="translate(1068.3 1243) scale(0.99 1.04)">0.1</text>
<text class="xl" transform="translate(1218.1 1243) scale(0.99 1.04)">0.2</text>
<text class="xl" transform="translate(1367.9 1243) scale(0.99 1.04)">0.3</text>
<text class="yl" transform="translate(813.44 1224.7) scale(0.99 1.04)">0</text>
<text class="yl" transform="translate(813.44 1135.26) scale(0.99 1.04)">2</text>
<text class="yl" transform="translate(813.44 1045.82) scale(0.99 1.04)">4</text>
<text class="yl" transform="translate(813.44 956.38) scale(0.99 1.04)">6</text>
<text class="yl" transform="translate(813.44 866.94) scale(0.99 1.04)">8</text>
<text class="yl" transform="translate(813.44 777.5) scale(0.99 1.04)">10</text>
<text class="al" transform="translate(1162.6 1264.4) scale(1.0 1.02)">On-topic keyword frequency</text>
<text class="al" transform="translate(783.07 964.3) rotate(-90) scale(1.0 1.02)">Density</text>
<text class="al" transform="translate(1426.2 820.9) scale(1.0 1.02)">Player type</text>
<path class="lg" d="M1371.5 839.6 h35.8" stroke="#1b72b0"/>
<text class="lr" transform="translate(1419.41 845.1) scale(1.0 1.02)">Human</text>
<path class="lg" d="M1371.5 863.9 h35.8" stroke="#fc7b0c"/>
<text class="lr" transform="translate(1419.41 869.4) scale(1.0 1.02)">Agent</text>
<text class="tag" x="1145.8" y="1313.9">(D)</text>
</g>
<g class="panel" id="panel-E">
<path class="c" d="M472 1925.3 L474.99 1925.29 L477.99 1925.18 L480.98 1925.03 L483.98 1924.83 L486.97 1924.57 L489.97 1924.24 L492.96 1923.81 L495.96 1923.27 L498.95 1922.6 L501.95 1921.77 L504.94 1920.75 L507.94 1919.52 L510.93 1918.02 L513.93 1916.24 L516.92 1914.13 L519.92 1911.65 L522.91 1908.77 L525.91 1905.44 L528.9 1901.61 L531.9 1897.26 L534.89 1892.33 L537.89 1886.8 L540.88 1880.61 L543.88 1873.75 L546.87 1866.17 L549.87 1857.86 L552.86 1848.79 L555.86 1838.95 L558.85 1828.34 L561.85 1816.96 L564.84 1804.84 L567.84 1792.01 L570.83 1778.51 L573.83 1764.43 L576.82 1749.85 L579.82 1734.87 L582.81 1719.61 L585.81 1704.22 L588.8 1688.84 L591.8 1673.62 L594.79 1658.72 L597.79 1644.28 L600.78 1630.45 L603.78 1617.37 L606.77 1605.13 L609.77 1593.83 L612.76 1583.55 L615.76 1574.33 L618.75 1566.19 L621.75 1559.16 L624.74 1553.24 L627.74 1548.41 L630.73 1544.66 L633.73 1541.99 L636.72 1540.36 L639.72 1539.77 L642.71 1540.21 L645.71 1541.66 L648.7 1544.11 L651.7 1547.54 L654.69 1551.92 L657.69 1557.22 L660.68 1563.4 L663.68 1570.39 L666.67 1578.12 L669.67 1586.54 L672.66 1595.54 L675.66 1605.05 L678.65 1614.99 L681.65 1625.29 L684.64 1635.87 L687.64 1646.69 L690.63 1657.7 L693.63 1668.87 L696.62 1680.16 L699.62 1691.56 L702.61 1703.05 L705.61 1714.61 L708.6 1726.22 L711.6 1737.84 L714.59 1749.44 L717.59 1760.95 L720.58 1772.33 L723.58 1783.49 L726.57 1794.37 L729.57 1804.88 L732.56 1814.96 L735.56 1824.55 L738.55 1833.57 L741.55 1842 L744.54 1849.79 L747.54 1856.93 L750.53 1863.43 L753.53 1869.3 L756.52 1874.56 L759.52 1879.26 L762.51 1883.43 L765.51 1887.12 L768.5 1890.38 L771.5 1893.26 L774.49 1895.79 L777.49 1898.02 L780.48 1899.99 L783.48 1901.71 L786.47 1903.22 L789.47 1904.52 L792.46 1905.63 L795.46 1906.57 L798.45 1907.35 L801.45 1907.97 L804.44 1908.46 L807.44 1908.81 L810.43 1909.06 L813.43 1909.21 L816.42 1909.28 L819.42 1909.31 L822.41 1909.31 L825.41 1909.29 L828.4 1909.29 L831.4 1909.31 L834.39 1909.38 L837.39 1909.51 L840.38 1909.7 L843.38 1909.95 L846.37 1910.28 L849.37 1910.67 L852.36 1911.12 L855.36 1911.63 L858.35 1912.18 L861.35 1912.76 L864.34 1913.37 L867.34 1913.99 L870.33 1914.6 L873.33 1915.21 L876.32 1915.8 L879.32 1916.37 L882.31 1916.91 L885.31 1917.4 L888.3 1917.86 L891.3 1918.26 L894.29 1918.62 L897.29 1918.91 L900.28 1919.14 L903.28 1919.3 L906.27 1919.38 L909.27 1919.38 L912.26 1919.3 L915.26 1919.13 L918.25 1918.87 L921.25 1918.53 L924.24 1918.09 L927.24 1917.58 L930.23 1916.99 L933.23 1916.34 L936.22 1915.65 L939.22 1914.92 L942.21 1914.19 L945.21 1913.46 L948.2 1912.77 L951.2 1912.13 L954.19 1911.57 L957.19 1911.1 L960.18 1910.74 L963.18 1910.51 L966.17 1910.41 L969.17 1910.45 L972.16 1910.64 L975.16 1910.96 L978.15 1911.41 L981.15 1911.97 L984.14 1912.64 L987.14 1913.4 L990.13 1914.22 L993.13 1915.09 L996.12 1915.99 L999.12 1916.9 L1002.11 1917.8 L1005.11 1918.67 L1008.1 1919.51 L1011.1 1920.3 L1014.09 1921.03 L1017.09 1921.7 L1020.08 1922.3 L1023.08 1922.84 L1026.07 1923.31 L1029.07 1923.72 L1032.06 1924.07 L1035.06 1924.37 L1038.05 1924.62 L1041.05 1924.83 L1044.04 1925 L1047.04 1925.13 L1050.03 1925.24 L1053.03 1925.3 L1056.02 1925.3 L1059.02 1925.3 L1062.01 1925.3 L1065.01 1925.3 L1068 1925.3" stroke="#fc7b0c"/>
<path class="c" d="M453.5 1925.28 L455.91 1925.16 L458.33 1925.02 L460.74 1924.83 L463.16 1924.59 L465.57 1924.29 L467.99 1923.91 L470.4 1923.44 L472.82 1922.84 L475.23 1922.12 L477.65 1921.23 L480.06 1920.15 L482.47 1918.84 L484.89 1917.27 L487.3 1915.4 L489.72 1913.17 L492.13 1910.54 L494.55 1907.45 L496.96 1903.84 L499.38 1899.65 L501.79 1894.79 L504.21 1889.2 L506.62 1882.81 L509.04 1875.54 L511.45 1867.32 L513.86 1858.08 L516.28 1847.77 L518.69 1836.34 L521.11 1823.77 L523.52 1810.04 L525.94 1795.17 L528.35 1779.2 L530.77 1762.19 L533.18 1744.25 L535.6 1725.49 L538.01 1706.08 L540.42 1686.17 L542.84 1665.97 L545.25 1645.68 L547.67 1625.53 L550.08 1605.72 L552.5 1586.46 L554.91 1567.96 L557.33 1550.39 L559.74 1533.9 L562.16 1518.63 L564.57 1504.68 L566.98 1492.12 L569.4 1481 L571.81 1471.34 L574.23 1463.14 L576.64 1456.4 L579.06 1451.07 L581.47 1447.13 L583.89 1444.52 L586.3 1443.19 L588.72 1443.09 L591.13 1444.15 L593.55 1446.31 L595.96 1449.48 L598.37 1453.59 L600.79 1458.55 L603.2 1464.25 L605.62 1470.59 L608.03 1477.45 L610.45 1484.71 L612.86 1492.25 L615.28 1499.95 L617.69 1507.7 L620.11 1515.39 L622.52 1522.93 L624.93 1530.26 L627.35 1537.32 L629.76 1544.11 L632.18 1550.61 L634.59 1556.85 L637.01 1562.88 L639.42 1568.76 L641.84 1574.57 L644.25 1580.39 L646.67 1586.32 L649.08 1592.43 L651.49 1598.82 L653.91 1605.55 L656.32 1612.67 L658.74 1620.22 L661.15 1628.22 L663.57 1636.67 L665.98 1645.56 L668.4 1654.86 L670.81 1664.52 L673.23 1674.51 L675.64 1684.77 L678.06 1695.25 L680.47 1705.9 L682.88 1716.66 L685.3 1727.49 L687.71 1738.35 L690.13 1749.18 L692.54 1759.96 L694.96 1770.65 L697.37 1781.2 L699.79 1791.57 L702.2 1801.73 L704.62 1811.62 L707.03 1821.21 L709.44 1830.43 L711.86 1839.25 L714.27 1847.6 L716.69 1855.46 L719.1 1862.77 L721.52 1869.5 L723.93 1875.63 L726.35 1881.13 L728.76 1886.01 L731.18 1890.27 L733.59 1893.91 L736.01 1896.96 L738.42 1899.47 L740.83 1901.46 L743.25 1902.99 L745.66 1904.11 L748.08 1904.88 L750.49 1905.35 L752.91 1905.6 L755.32 1905.67 L757.74 1905.62 L760.15 1905.49 L762.57 1905.34 L764.98 1905.21 L767.39 1905.12 L769.81 1905.09 L772.22 1905.15 L774.64 1905.3 L777.05 1905.55 L779.47 1905.9 L781.88 1906.33 L784.3 1906.83 L786.71 1907.39 L789.13 1907.98 L791.54 1908.6 L793.95 1909.21 L796.37 1909.8 L798.78 1910.35 L801.2 1910.84 L803.61 1911.26 L806.03 1911.59 L808.44 1911.83 L810.86 1911.97 L813.27 1912 L815.69 1911.93 L818.1 1911.75 L820.52 1911.48 L822.93 1911.13 L825.34 1910.69 L827.76 1910.19 L830.17 1909.65 L832.59 1909.08 L835 1908.5 L837.42 1907.94 L839.83 1907.41 L842.25 1906.95 L844.66 1906.55 L847.08 1906.26 L849.49 1906.08 L851.9 1906.02 L854.32 1906.1 L856.73 1906.31 L859.15 1906.67 L861.56 1907.17 L863.98 1907.8 L866.39 1908.54 L868.81 1909.39 L871.22 1910.33 L873.64 1911.34 L876.05 1912.4 L878.46 1913.48 L880.88 1914.58 L883.29 1915.66 L885.71 1916.72 L888.12 1917.73 L890.54 1918.7 L892.95 1919.6 L895.37 1920.42 L897.78 1921.18 L900.2 1921.86 L902.61 1922.46 L905.03 1922.99 L907.44 1923.45 L909.85 1923.85 L912.27 1924.18 L914.68 1924.47 L917.1 1924.7 L919.51 1924.89 L921.93 1925.05 L924.34 1925.17 L926.76 1925.27 L929.17 1925.3 L931.59 1925.3 L934 1925.3" stroke="#1b72b0"/>
<path class="s" d="M424.1 1419.2 V1925.6 H1096.5"/>
<path class="t" d="M514.3 1925.6 v5.83M659.67 1925.6 v5.83M805.05 1925.6 v5.83M950.42 1925.6 v5.83M1095.8 1925.6 v5.83M424.1 1925.6 h-5.83M424.1 1842 h-5.83M424.1 1758.4 h-5.83M424.1 1674.8 h-5.83M424.1 1591.2 h-5.83M424.1 1507.6 h-5.83M424.1 1424 h-5.83"/>
<text class="xl" transform="translate(514.3 1950.6) scale(0.99 1.04)">0.0</text>
<text class="xl" transform="translate(659.67 1950.6) scale(0.99 1.04)">0.1</text>
<text class="xl" transform="translate(805.05 1950.6) scale(0.99 1.04)">0.2</text>
<text class="xl" transform="translate(950.42 1950.6) scale(0.99 1.04)">0.3</text>
<text class="xl" transform="translate(1095.8 1950.6) scale(0.99 1.04)">0.4</text>
<text class="yl" transform="translate(412.04 1932.3) scale(0.99 1.04)">0</text>
<text class="yl" transform="translate(412.04 1848.7) scale(0.99 1.04)">1</text>
<text class="yl" transform="translate(412.04 1765.1) scale(0.99 1.04)">2</text>
<text class="yl" transform="translate(412.04 1681.5) scale(0.99 1.04)">3</text>
<text class="yl" transform="translate(412.04 1597.9) scale(0.99 1.04)">4</text>
<text class="yl" transform="translate(412.04 1514.3) scale(0.99 1.04)">5</text>
<text class="yl" transform="translate(412.04 1430.7) scale(0.99 1.04)">6</text>
<text class="al" transform="translate(760.3 1972) scale(1.0 1.02)">On-topic keyword frequency</text>
<text class="al" transform="translate(392.87 1672.8) rotate(-90) scale(1.0 1.02)">Density</text>
<text class="al" transform="translate(1030.2 1528.7) scale(1.0 1.02)">Game type</text>
<path class="lg" d="M993.3 1547.4 h35.8" stroke="#1b72b0"/>
<text class="lr" transform="translate(1041.21 1552.9) scale(1.0 1.02)">HH</text>
<path class="lg" d="M993.3 1571.7 h35.8" stroke="#fc7b0c"/>
<text class="lr" transform="translate(1041.21 1577.2) scale(1.0 1.02)">AH</text>
<text class="tag" x="750.7" y="2026">(E)</text>
</g>
</svg>
</body></html>
